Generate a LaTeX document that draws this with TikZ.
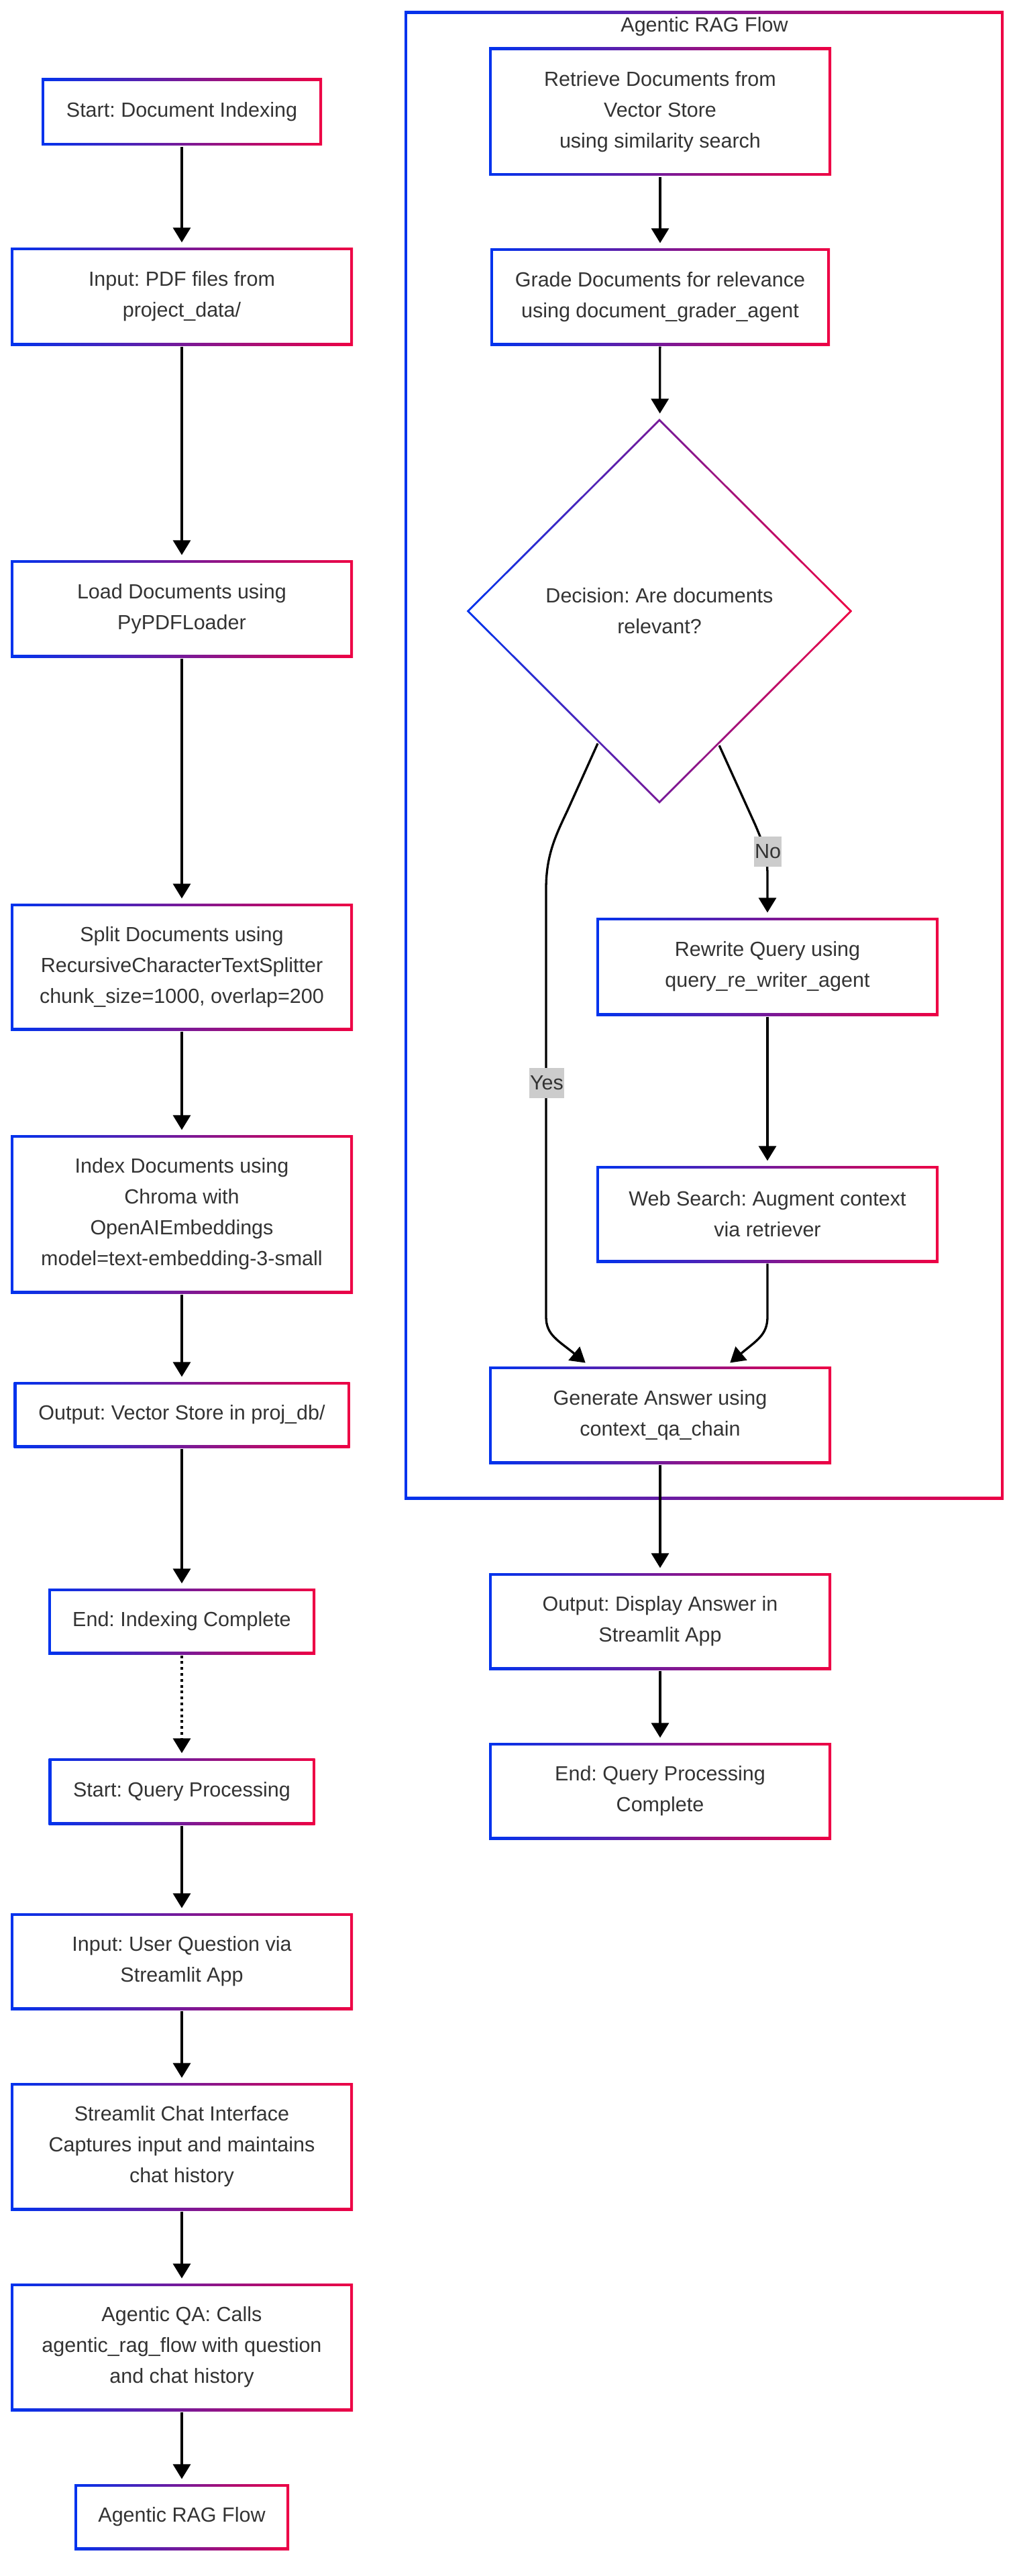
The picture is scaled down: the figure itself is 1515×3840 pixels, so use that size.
\documentclass[tikz,border=0pt]{standalone}
\usepackage{fontspec}
\setmainfont{Liberation Sans}
\usetikzlibrary{arrows.meta,shapes.geometric}
\frenchspacing
\definecolor{gblue}{HTML}{0033EE}
\definecolor{gred}{HTML}{EE0044}
\definecolor{txtgray}{HTML}{333333}
\definecolor{lblgray}{HTML}{CCCCCC}
\tikzset{
 gbox/.style 2 args={rectangle, inner sep=0pt, minimum width=#1, minimum height=#2, align=center, text=txtgray,
  path picture={\shade[left color=gblue, right color=gred] (path picture bounding box.south west) rectangle (path picture bounding box.north east);
   \fill[white] ([shift={(4pt,4pt)}]path picture bounding box.south west) rectangle ([shift={(-4pt,-4pt)}]path picture bounding box.north east);}},
 gdiam/.style={diamond, inner sep=0pt, minimum width=576pt, minimum height=575pt, align=center, text=txtgray,
  path picture={\shade[left color=gblue, right color=gred] (path picture bounding box.south west) rectangle (path picture bounding box.north east);
   \fill[white] ([yshift=-4.2pt]path picture bounding box.north) -- ([xshift=-4.2pt]path picture bounding box.east) -- ([yshift=4.2pt]path picture bounding box.south) -- ([xshift=4.2pt]path picture bounding box.west) -- cycle;}},
 elabel/.style={fill=lblgray, text=txtgray, inner xsep=1pt, inner ysep=0pt, minimum height=45pt},
}
\begin{document}
\begin{tikzpicture}[x=1pt,y=-1pt,font=\fontsize{30.5}{46}\selectfont,line width=3.3pt,>={Triangle[length=22pt,width=26pt]},shorten >=6pt]
 \useasboundingbox (0,0) rectangle (1515,3840);
 \node[gbox={893pt}{2218pt}] (ragbox) at (1049.5,1126) {};
 \node[text=txtgray] (ragtitle) at (1050,40) {Agentic RAG Flow};

 \node[gbox={418pt}{100pt}] (s1) at (271,167) {Start: Document Indexing};
 \node[gbox={510pt}{146pt}] (in1) at (271,442) {Input: PDF files from\\project\_data/};
 \node[gbox={510pt}{145pt}] (load) at (271,907.5) {Load Documents using\\PyPDFLoader};
 \node[gbox={510pt}{189pt}] (split) at (271,1441.5) {Split Documents using\\RecursiveCharacterTextSplitter\\chunk\_size=1000, overlap=200};
 \node[gbox={510pt}{236pt}] (index) at (271,1810) {Index Documents using\\Chroma with\\OpenAIEmbeddings\\model=text-embedding-3-small};
 \node[gbox={501pt}{98pt}] (outvs) at (271,2109) {Output: Vector Store in proj\_db/};
 \node[gbox={398pt}{98pt}] (endidx) at (271,2417) {End: Indexing Complete};
 \node[gbox={397pt}{99pt}] (startq) at (271,2670.5) {Start: Query Processing};
 \node[gbox={510pt}{144pt}] (inq) at (271,2924) {Input: User Question via\\Streamlit App};
 \node[gbox={510pt}{190pt}] (chat) at (271,3200) {Streamlit Chat Interface\\Captures input and maintains\\chat history};
 \node[gbox={510pt}{190pt}] (aqa) at (271,3499) {Agentic QA: Calls\\agentic\_rag\_flow with question\\and chat history};
 \node[gbox={320pt}{98pt}] (arf) at (271,3752) {Agentic RAG Flow};

 \node[gbox={510pt}{191pt}] (retr) at (984,166.5) {Retrieve Documents from\\Vector Store\\using similarity search};
 \node[gbox={506pt}{145pt}] (grade) at (984,442.5) {Grade Documents for relevance\\using document\_grader\_agent};
 \node[gdiam] (dec) at (983,911) {Decision: Are documents\\relevant?};
 \node[gbox={510pt}{146pt}] (rewrite) at (1144,1441) {Rewrite Query using\\query\_re\_writer\_agent};
 \node[gbox={510pt}{144pt}] (web) at (1144,1810) {Web Search: Augment context\\via retriever};
 \node[gbox={510pt}{145pt}] (gen) at (984,2109.5) {Generate Answer using\\context\_qa\_chain};
 \node[gbox={510pt}{144pt}] (outd) at (984,2417) {Output: Display Answer in\\Streamlit App};
 \node[gbox={510pt}{144pt}] (endq) at (984,2670) {End: Query Processing\\Complete};

 \foreach \a/\b in {s1/in1,in1/load,load/split,split/index,index/outvs,outvs/endidx,startq/inq,inq/chat,chat/aqa,aqa/arf,retr/grade,grade/dec,rewrite/web,gen/outd,outd/endq}
 \draw[->] (\a) -- (\b);
 \draw[->,dash pattern=on 4pt off 4.8pt] (endidx) -- (startq);
 \draw[->] (dec.245.7) -- (846,1208) .. controls (828,1246) and (814,1275) .. (814,1325) -- (814,1963) .. controls (814,1990) and (832,1998) .. ([xshift=150pt]gen.north west);
 \draw[->] (dec.294.8) -- (1126,1230) .. controls (1137,1256) and (1144,1272) .. (1144,1305) -- (rewrite.north);
 \draw[->] (web.south) -- (1144,1963) .. controls (1144,1990) and (1128,1998) .. ([xshift=-157pt]gen.north east);
 \node[elabel] (lno) at (1144.5,1269.5) {No};
 \node[elabel] (lyes) at (815,1614.5) {Yes};
\end{tikzpicture}
\end{document}
